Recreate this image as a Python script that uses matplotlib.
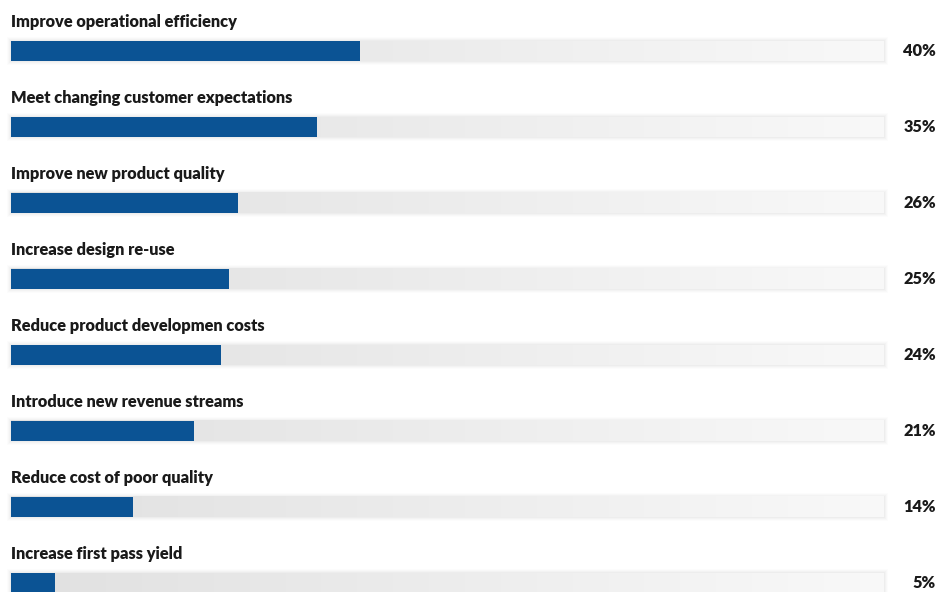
import matplotlib
matplotlib.use("Agg")
import matplotlib.pyplot as plt
import numpy as np
from matplotlib.patches import Rectangle

categories = [
    "Improve operational efficiency",
    "Meet changing customer expectations",
    "Improve new product quality",
    "Increase design re-use",
    "Reduce product developmen costs",
    "Introduce new revenue streams",
    "Reduce cost of poor quality",
    "Increase first pass yield",
]
values = [40, 35, 26, 25, 24, 21, 14, 5]

W, H = 940, 592
fig = plt.figure(figsize=(W / 100, H / 100), dpi=100)
fig.patch.set_facecolor("white")
left_px, right_px = 11, 884
ax = fig.add_axes([left_px / W, 0, (right_px - left_px) / W, 1])
spacing = 76.0
first_c = 51.0
ax.set_xlim(0, 100)
ax.set_ylim((H - first_c) / spacing, -first_c / spacing)
ax.axis("off")

bh = 20 / spacing
blue = "#0b5394"
grad = np.linspace(0, 1, 256)
c_left = np.array([0.88, 0.88, 0.88])
c_right = np.array([0.975, 0.975, 0.975])
img = (c_left[None, :] * (1 - grad[:, None]) + c_right[None, :] * grad[:, None])[None, :, :]

for i, (cat, v) in enumerate(zip(categories, values)):
    # soft shadow around track
    for k, a in [(4, 0.012), (3, 0.015), (2, 0.02), (1, 0.025)]:
        dx = k * 100 / (right_px - left_px)
        dy = k / spacing
        ax.add_patch(Rectangle((-dx, i - bh / 2 - dy), 100 + 2 * dx, bh + 2 * dy,
                               facecolor="#000000", alpha=a, edgecolor="none",
                               clip_on=False, zorder=1))
    ax.imshow(img, extent=[0, 100, i + bh / 2, i - bh / 2], aspect="auto",
              zorder=2, interpolation="bilinear")
    ax.barh(i, v, height=bh, color=blue, zorder=3, edgecolor="none")
    ax.text(0, i - 29 / spacing, cat, ha="left", va="center", fontsize=11.8,
            fontfamily="Lato", fontweight="heavy", color="#1a1a1a", clip_on=False)
    ax.text(100 + (936 - right_px) * 100 / (right_px - left_px), i, f"{v}%",
            ha="right", va="center", fontsize=11.8, fontfamily="Lato",
            fontweight="heavy", color="#1a1a1a", clip_on=False)

ax.set_xlim(0, 100)
ax.set_ylim((H - first_c) / spacing, -first_c / spacing)
fig.savefig("out.png", dpi=100, facecolor="white")
